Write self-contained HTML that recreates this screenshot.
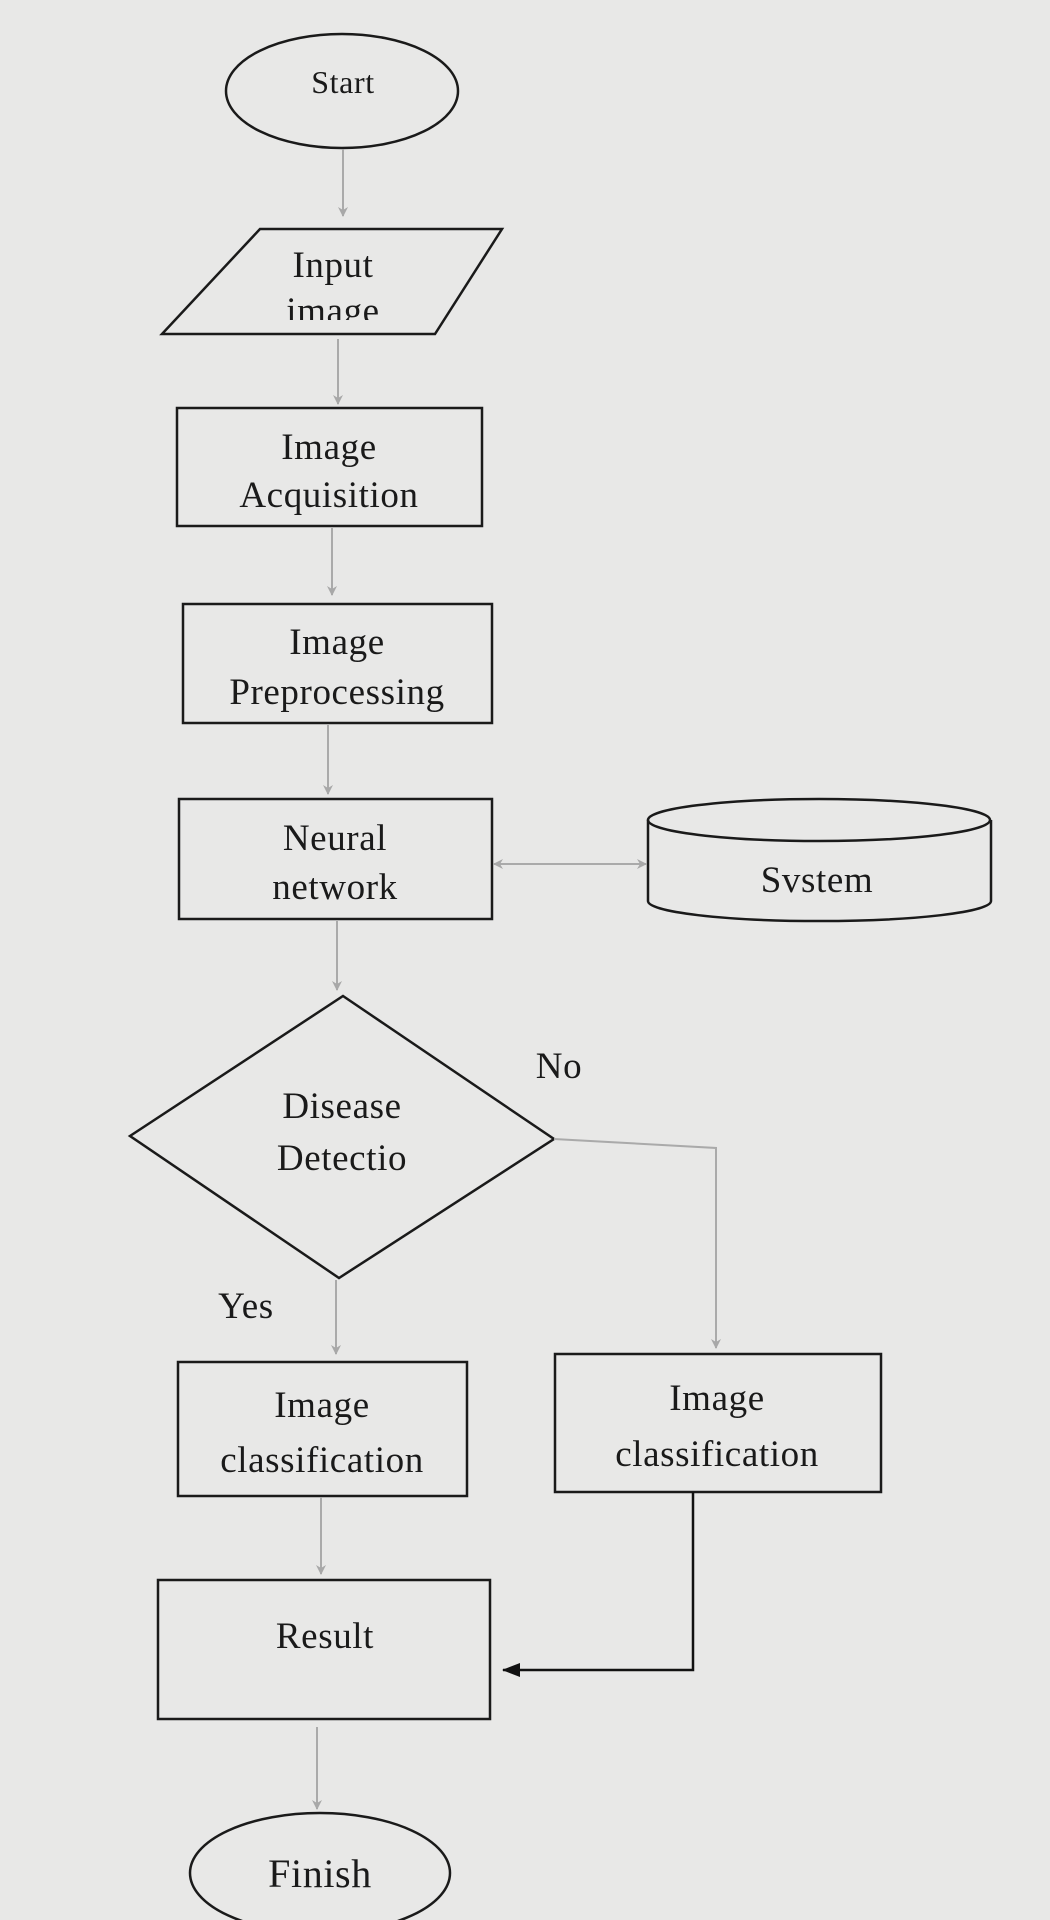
<!DOCTYPE html>
<html><head><meta charset="utf-8"><style>
html,body{margin:0;padding:0;background:#e8e8e7;}
svg{display:block}
text{font-family:"Liberation Serif",serif;fill:#1a1a1a;text-anchor:middle;letter-spacing:0.6px}
</style></head><body>
<svg width="1050" height="1920" viewBox="0 0 1050 1920" xmlns="http://www.w3.org/2000/svg">
<defs>
<marker id="g" markerWidth="10" markerHeight="10" refX="9" refY="5" orient="auto" markerUnits="userSpaceOnUse"><path d="M0,0 L10,5 L0,10 L3,5 z" fill="#a8a8a8"/></marker>
<marker id="gs" markerWidth="10" markerHeight="10" refX="1" refY="5" orient="auto" markerUnits="userSpaceOnUse"><path d="M10,0 L0,5 L10,10 L7,5 z" fill="#a8a8a8"/></marker>
<marker id="b" markerWidth="18" markerHeight="14" refX="17" refY="7" orient="auto" markerUnits="userSpaceOnUse"><path d="M0,0 L18,7 L0,14 z" fill="#111"/></marker>
<clipPath id="c1"><rect x="0" y="280" width="1050" height="40"/></clipPath>
</defs>
<rect width="1050" height="1920" fill="#e8e8e7"/>
<g fill="none" stroke="#1a1a1a" stroke-width="2.5">
<ellipse cx="342" cy="91" rx="116" ry="57"/>
<polygon points="260,229 502,229 435,334 162,334"/>
<rect x="177" y="408" width="305" height="118"/>
<rect x="183" y="604" width="309" height="119"/>
<rect x="179" y="799" width="313" height="120"/>
<path d="M648,820 L648,901 A171,20 0 0 0 991,901 L991,820"/>
<ellipse cx="819" cy="820" rx="171" ry="21"/>
<polygon points="343,996 554,1139 339,1278 130,1136"/>
<rect x="178" y="1362" width="289" height="134"/>
<rect x="555" y="1354" width="326" height="138"/>
<rect x="158" y="1580" width="332" height="139"/>
<ellipse cx="320" cy="1873" rx="130" ry="60"/>
</g>
<g fill="none" stroke="#aaaaaa" stroke-width="2">
<line x1="343" y1="149" x2="343" y2="216" marker-end="url(#g)"/>
<line x1="338" y1="339" x2="338" y2="404" marker-end="url(#g)"/>
<line x1="332" y1="528" x2="332" y2="595" marker-end="url(#g)"/>
<line x1="328" y1="725" x2="328" y2="794" marker-end="url(#g)"/>
<line x1="494" y1="864" x2="646" y2="864" marker-end="url(#g)" marker-start="url(#gs)"/>
<line x1="337" y1="921" x2="337" y2="990" marker-end="url(#g)"/>
<polyline points="554,1139 716,1148 716,1348" marker-end="url(#g)"/>
<line x1="336" y1="1280" x2="336" y2="1354" marker-end="url(#g)"/>
<line x1="321" y1="1497" x2="321" y2="1574" marker-end="url(#g)"/>
<line x1="317" y1="1727" x2="317" y2="1809" marker-end="url(#g)"/>
</g>
<polyline points="693,1492 693,1670 503,1670" fill="none" stroke="#111" stroke-width="2.5" marker-end="url(#b)"/>
<g font-size="32"><text x="343" y="93">Start</text></g>
<g font-size="37">
<text x="333" y="277">Input</text>
<text x="333" y="323" clip-path="url(#c1)">image</text>
<text x="329" y="459">Image</text>
<text x="329" y="507">Acquisition</text>
<text x="337" y="654">Image</text>
<text x="337" y="704">Preprocessing</text>
<text x="335" y="850">Neural</text>
<text x="335" y="899">network</text>
<text x="817" y="892">Svstem</text>
<text x="342" y="1118">Disease</text>
<text x="342" y="1170">Detectio</text>
<text x="559" y="1078">No</text>
<text x="246" y="1318">Yes</text>
<text x="322" y="1417">Image</text>
<text x="322" y="1472">classification</text>
<text x="717" y="1410">Image</text>
<text x="717" y="1466">classification</text>
<text x="325" y="1648">Result</text>
</g>
<text x="320" y="1887" font-size="40">Finish</text>
</svg>
</body></html>
